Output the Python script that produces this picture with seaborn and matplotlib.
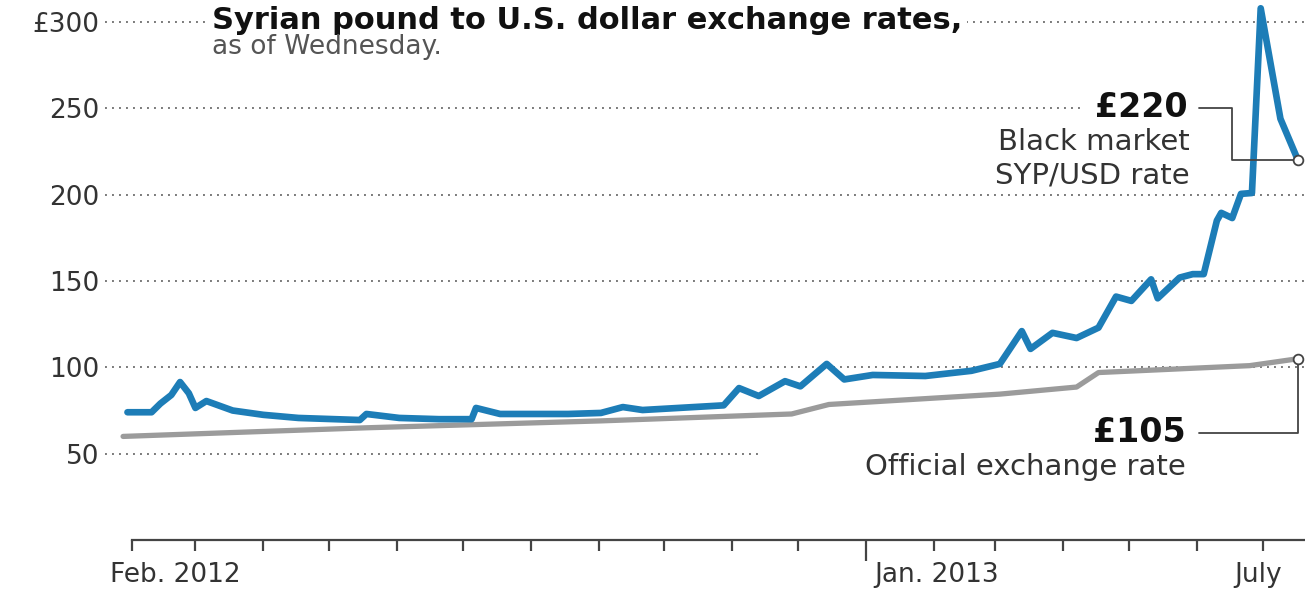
import pandas as pd
import matplotlib.pyplot as plt
import matplotlib.dates as mdates
import seaborn as sns

# Black market SYP/USD rate
black_dates = ['2012-01-30', '2012-02-10', '2012-02-14', '2012-02-19', '2012-02-23',
               '2012-02-27', '2012-03-01', '2012-03-06', '2012-03-18', '2012-04-01',
               '2012-04-17', '2012-05-15', '2012-05-18', '2012-06-02', '2012-06-20',
               '2012-07-05', '2012-07-07', '2012-07-18', '2012-08-18', '2012-09-02',
               '2012-09-12', '2012-09-21', '2012-10-28', '2012-11-04', '2012-11-13',
               '2012-11-25', '2012-12-02', '2012-12-14', '2012-12-22', '2013-01-04',
               '2013-01-28', '2013-02-18', '2013-03-03', '2013-03-13', '2013-03-17',
               '2013-03-27', '2013-04-07', '2013-04-17', '2013-04-25', '2013-05-02',
               '2013-05-11', '2013-05-14', '2013-05-24', '2013-05-30', '2013-06-04',
               '2013-06-10', '2013-06-12', '2013-06-17', '2013-06-21', '2013-06-26',
               '2013-06-30', '2013-07-09', '2013-07-17']
black_rate = [74, 74, 79, 84, 91.5,
              85, 76.5, 80.5, 75, 72.5,
              70.7, 69.5, 73, 70.7, 70,
              70, 76.5, 73, 73, 73.6,
              77, 75.3, 78, 88, 83.4,
              92, 89, 102, 93, 95.6,
              95, 98, 102, 121, 110.7,
              120, 117, 123, 141, 138.5,
              151, 140, 152, 154, 154,
              185, 189.5, 186.5, 200.5, 201,
              308, 244, 220]

# Official exchange rate
official_dates = ['2012-01-28', '2012-05-18', '2012-09-02', '2012-11-28', '2012-12-15',
                  '2013-03-03', '2013-04-07', '2013-04-17', '2013-06-25', '2013-07-17']
official_rate = [60, 65, 69, 73, 78.5,
                 84.5, 88.6, 97, 101, 105]

y_ticks = [50, 100, 150, 200, 250, 300]
y_labels = ['50', '100', '150', '200', '250', '£300']
x_label_dates = ['2012-02-21', '2013-02-02', '2013-06-29']
x_labels = ['Feb. 2012', 'Jan. 2013', 'July']

BLUE = '#1d7db7'
GRAY = '#9b9b9b'
INK = '#333333'

black = pd.DataFrame({'date': pd.to_datetime(black_dates), 'rate': black_rate})
official = pd.DataFrame({'date': pd.to_datetime(official_dates), 'rate': official_rate})

sns.set_theme(style='white')
plt.rcParams['font.family'] = ['DejaVu Sans']

W, H = 1305, 590
fig = plt.figure(figsize=(W / 100, H / 100), dpi=100)
ax = fig.add_axes([105 / W, 50 / H, 1200 / W, 540 / H])

def fx(px):
    return px / W

def fy(py):
    return 1 - py / H

# dotted gridlines, some cut short where labels sit
grid_spans = {50: 0.548, 100: 1, 150: 1, 200: 1, 250: 0.8125, 300: 1}
for y, xmax in grid_spans.items():
    ax.axhline(y, 0, xmax, color='#7a7a7a', lw=1.4, ls=(0, (1, 2.6)), zorder=1)

sns.lineplot(data=official, x='date', y='rate', color=GRAY, lw=3.8, ax=ax, zorder=3,
             solid_joinstyle='round')
sns.lineplot(data=black, x='date', y='rate', color=BLUE, lw=4.8, ax=ax, zorder=4,
             solid_joinstyle='round')

x0 = pd.Timestamp('2012-02-01')
xmin, xmax = pd.Timestamp('2012-01-19 18:00'), pd.Timestamp('2013-07-20 05:00')
ax.set_xlim(xmin, xmax)
ax.set_ylim(0, 312.8)
ax.set_xlabel('')
ax.set_ylabel('')

for s in ['top', 'right', 'left']:
    ax.spines[s].set_visible(False)
ax.spines['bottom'].set_color('#444444')
ax.spines['bottom'].set_linewidth(1.6)
ax.spines['bottom'].set_bounds(mdates.date2num(x0), mdates.date2num(xmax))

ax.set_yticks(y_ticks)
ax.set_yticklabels(y_labels)
ax.tick_params(axis='y', length=0, pad=4, labelsize=19, labelcolor=INK)

ax.set_xticks(pd.to_datetime(x_label_dates))
ax.set_xticklabels(x_labels)
ax.tick_params(axis='x', which='major', length=0, pad=16, labelsize=19, labelcolor=INK)
ax.xaxis.set_minor_locator(mdates.MonthLocator())
ax.tick_params(axis='x', which='minor', bottom=True, length=8, width=1.6,
               color='#444444', direction='out')

# longer tick at the start of 2013
jan = mdates.date2num(pd.Timestamp('2013-01-01'))
locs = ax.xaxis.get_minorticklocs()
for tick, loc in zip(ax.xaxis.get_minor_ticks(len(locs)), locs):
    if abs(loc - jan) < 0.5:
        tick.tick1line.set_markersize(15)

# leader lines and end markers
b_end = black.iloc[-1]
o_end = official.iloc[-1]
d45, d30 = pd.Timedelta(days=45), pd.Timedelta(days=30)
ax.plot([b_end.date - d45, b_end.date - d30, b_end.date - d30, b_end.date],
        [250, 250, b_end.rate, b_end.rate], color='#444444', lw=1.3, zorder=5, clip_on=False)
ax.plot([o_end.date - d45, o_end.date, o_end.date],
        [62, 62, o_end.rate], color='#444444', lw=1.3, zorder=5, clip_on=False)
for row in (b_end, o_end):
    ax.plot([row.date], [row.rate], 'o', mfc='white', mec='#444444', ms=7, mew=1.3,
            zorder=6, clip_on=False)

# title block
fig.text(fx(212), fy(29), 'Syrian pound to U.S. dollar exchange rates,', fontsize=22,
         fontweight='bold', color='#111111', va='baseline',
         bbox=dict(facecolor='white', edgecolor='none', pad=3))
fig.text(fx(212), fy(54), 'as of Wednesday.', fontsize=19, color='#555555', va='baseline')

# annotations
fig.text(fx(1188), fy(117), '£220', fontsize=24, fontweight='bold', color='#111111',
         ha='right', va='baseline')
fig.text(fx(1190), fy(150), 'Black market', fontsize=21, color=INK, ha='right', va='baseline')
fig.text(fx(1190), fy(184), 'SYP/USD rate', fontsize=21, color=INK, ha='right', va='baseline')
fig.text(fx(1186), fy(442), '£105', fontsize=24, fontweight='bold', color='#111111',
         ha='right', va='baseline')
fig.text(fx(1186), fy(475), 'Official exchange rate', fontsize=21, color=INK,
         ha='right', va='baseline')

fig.savefig('out.png', dpi=100)
